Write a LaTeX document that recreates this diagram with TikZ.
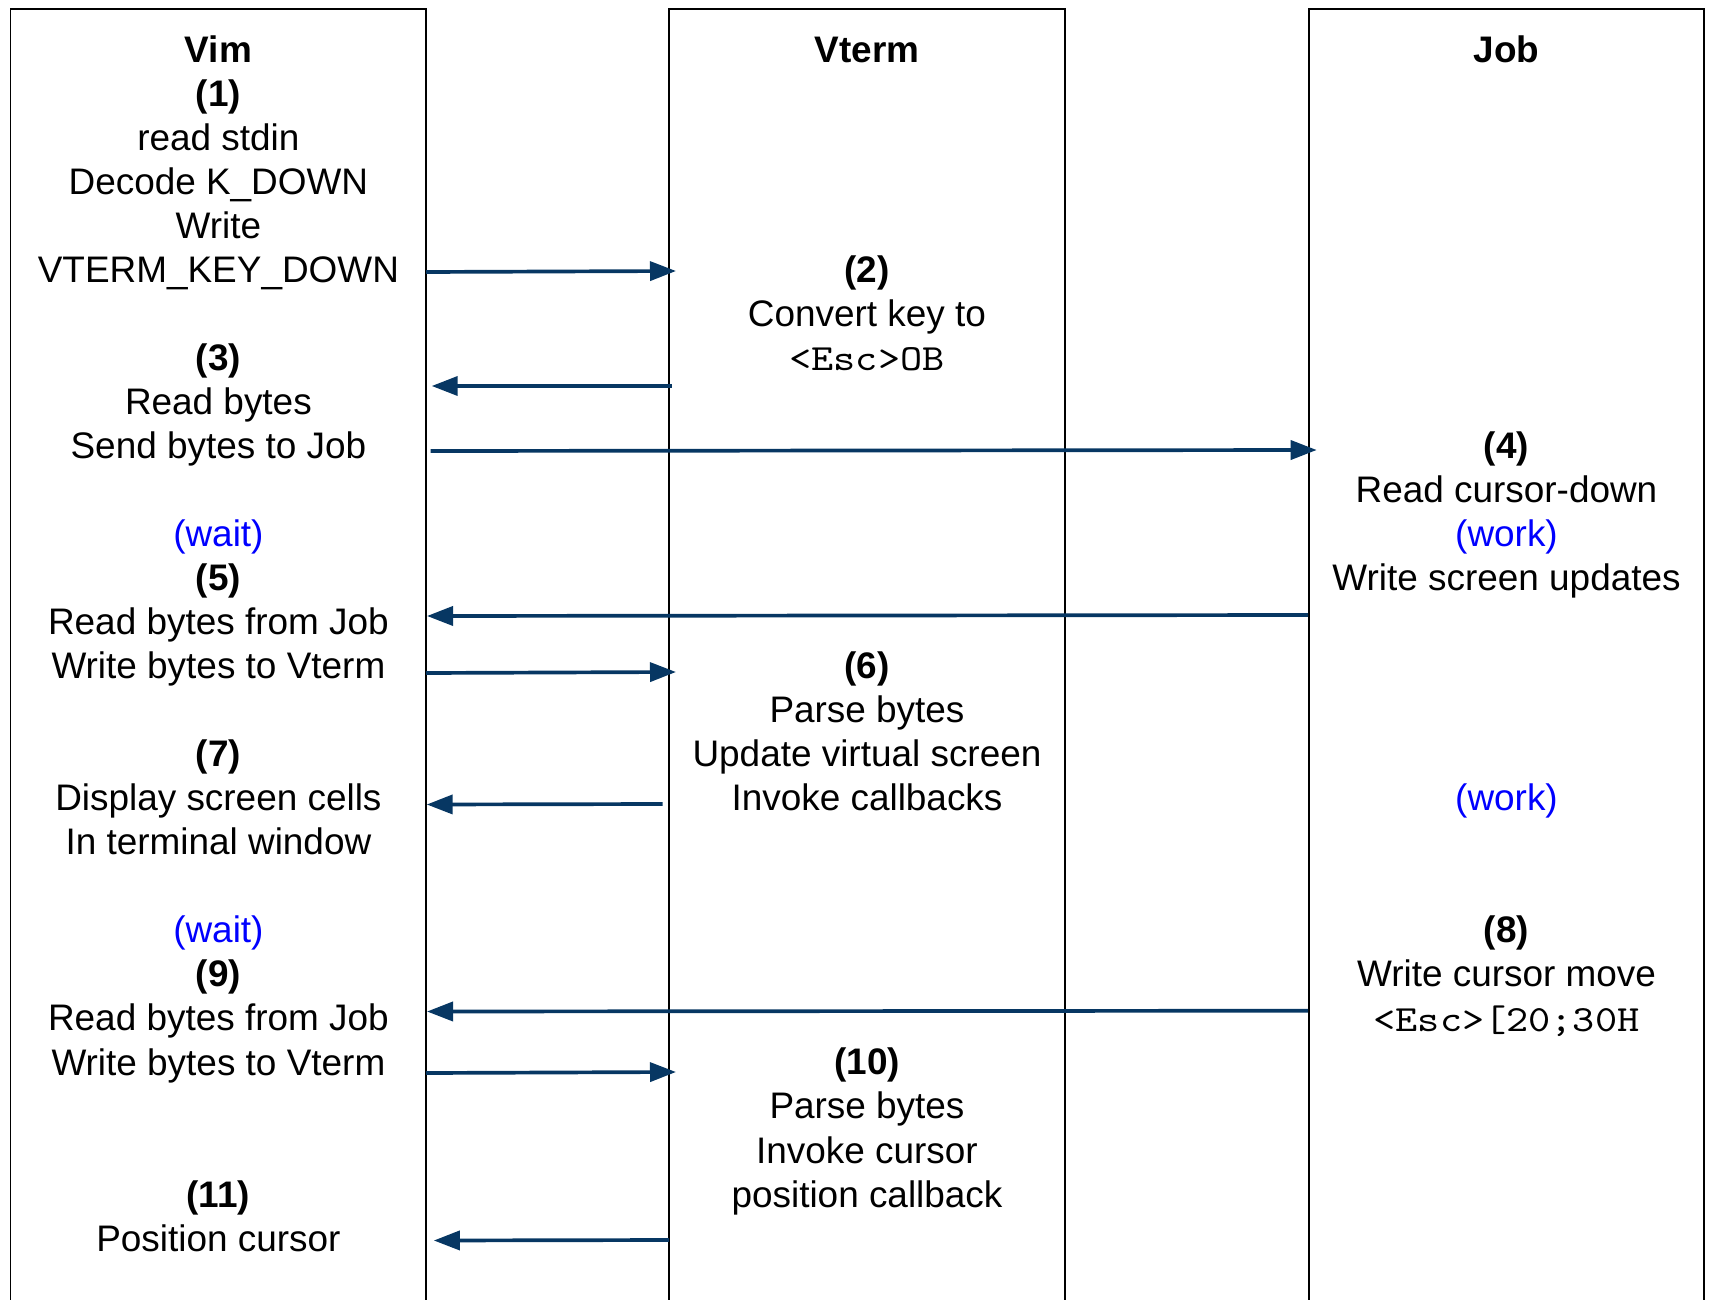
\documentclass[tikz,border=0pt]{standalone}
\usepackage{fontspec}
\setmainfont{Liberation Sans}
\newfontfamily\codefont[FakeStretch=1.143]{Latin Modern Mono}
\usetikzlibrary{arrows.meta,positioning}
\definecolor{msgblue}{HTML}{073763}
\definecolor{noteblue}{HTML}{0000FF}
\newcommand{\code}[1]{{\codefont #1}}

\begin{document}
\begin{tikzpicture}[x=0.01cm, y=-0.01cm,
	lane/.style={draw, line width=0.45pt},
	txt/.style={anchor=base, align=center, inner sep=0pt, font=\fontsize{10.5}{12.53}\selectfont},
	note/.style={text=noteblue},
	msg/.style={color=msgblue, line width=1.05pt, -{Triangle[length=2.6mm,width=1.9mm]}}]
	\useasboundingbox (0,0) rectangle (1709,1300);

	% lanes
	\draw[lane] (10.7,1300) |- (426,9) -- (426,1300);
	\draw[lane] (669,1300) |- (1065,9) -- (1065,1300);
	\draw[lane] (1309,1300) |- (1704,9) -- (1704,1300);

	% Vim (nodes sit on the baseline of their last line)
	\node[txt] (vim) at (218.4,62.3) {\textbf{Vim}};
	\node[txt] (s1) at (218.4,282.5) {\textbf{(1)}\\read stdin\\Decode K\_DOWN\\Write\\VTERM\_KEY\_DOWN};
	\node[txt] (s3) at (218.4,458.6) {\textbf{(3)}\\Read bytes\\Send bytes to Job};
	\node[txt] (s5) at (218.4,678.7) {\textcolor{noteblue}{(wait)}\\\textbf{(5)}\\Read bytes from Job\\Write bytes to Vterm};
	\node[txt] (s7) at (218.4,854.8) {\textbf{(7)}\\Display screen cells\\In terminal window};
	\node[txt] (s9) at (218.4,1075.0) {\textcolor{noteblue}{(wait)}\\\textbf{(9)}\\Read bytes from Job\\Write bytes to Vterm};
	\node[txt] (s11) at (218.4,1251.1) {\textbf{(11)}\\Position cursor};

	% Vterm
	\node[txt] (vterm) at (867,62.3) {\textbf{Vterm}};
	\node[txt] (s2) at (867,370.5) {\textbf{(2)}\\Convert key to\\\code{<Esc>OB}};
	\node[txt] (s6) at (867,810.8) {\textbf{(6)}\\Parse bytes\\Update virtual screen\\Invoke callbacks};
	\node[txt] (s10) at (867,1207.1) {\textbf{(10)}\\Parse bytes\\Invoke cursor\\position callback};

	% Job
	\node[txt] (job) at (1506.5,62.3) {\textbf{Job}};
	\node[txt] (s4) at (1506.5,590.7) {\textbf{(4)}\\Read cursor-down\\\textcolor{noteblue}{(work)}\\Write screen updates};
	\node[txt, note] (work) at (1506.5,810.8) {(work)};
	\node[txt] (s8) at (1506.5,1031.0) {\textbf{(8)}\\Write cursor move\\\code{<Esc>[20;30H}};

	% message ends
	\coordinate (m1a) at (426,272);     \coordinate (m1b) at (676,271);
	\coordinate (m2a) at (671.7,386);   \coordinate (m2b) at (431.7,386);
	\coordinate (m3a) at (430.5,451);   \coordinate (m3b) at (1316.7,450);
	\coordinate (m4a) at (1308,615);    \coordinate (m4b) at (427,616);
	\coordinate (m5a) at (426,673);     \coordinate (m5b) at (676,672);
	\coordinate (m6a) at (662.7,804);   \coordinate (m6b) at (426.7,804.5);
	\coordinate (m7a) at (1308,1010.7); \coordinate (m7b) at (427,1011.5);
	\coordinate (m8a) at (426,1073);    \coordinate (m8b) at (676,1072);
	\coordinate (m9a) at (669,1240);    \coordinate (m9b) at (433.8,1240.5);

	\path[msg]
		(m1a) edge (m1b)
		(m2a) edge (m2b)
		(m3a) edge (m3b)
		(m4a) edge (m4b)
		(m5a) edge (m5b)
		(m6a) edge (m6b)
		(m7a) edge (m7b)
		(m8a) edge (m8b)
		(m9a) edge (m9b);
\end{tikzpicture}
\end{document}
